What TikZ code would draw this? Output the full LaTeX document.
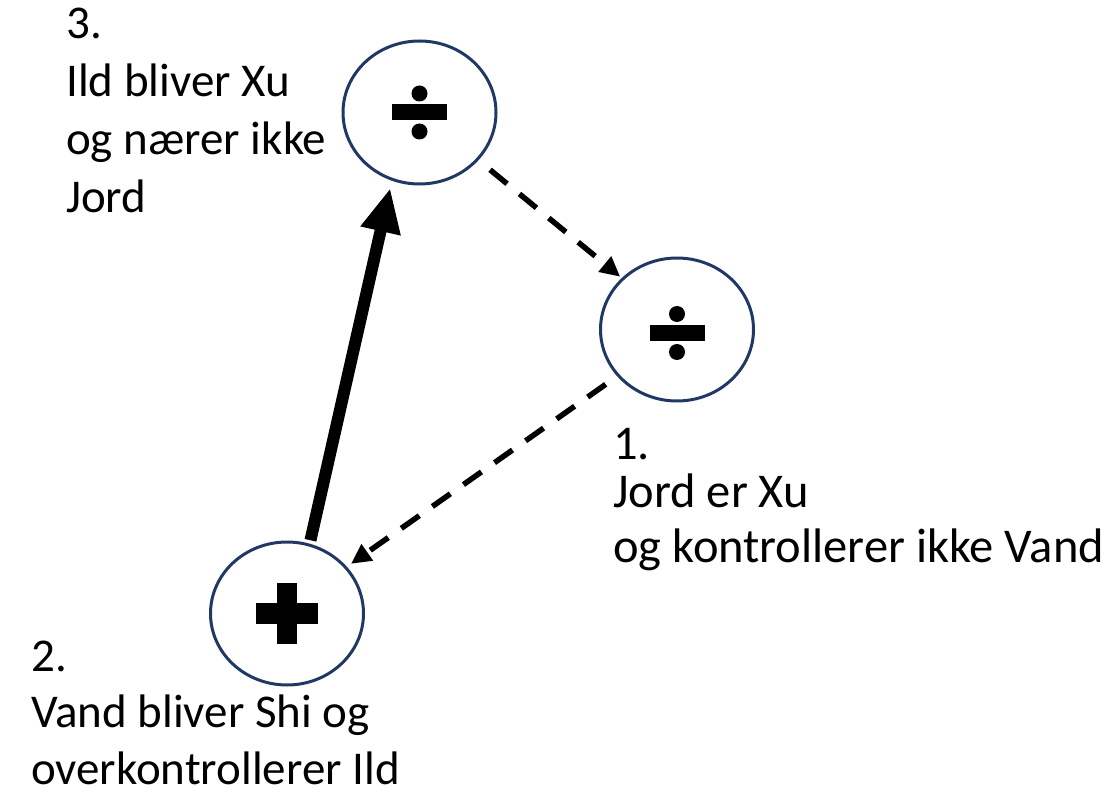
\documentclass[tikz,border=0pt]{standalone}
\usepackage{fontspec}
\setmainfont{Carlito}
\usetikzlibrary{shapes.geometric,arrows.meta}
\definecolor{rimblue}{RGB}{31,56,100}
\tikzset{%
  element/.style = {ellipse, draw=rimblue, line width=3pt,
    minimum width=153pt, minimum height=143pt, inner sep=0pt},
  phase/.style = {anchor=base west, align=left, inner sep=0pt},
  strong/.style = {line width=12pt, -{Triangle[length=44pt,width=38pt]}},
  weak/.style = {line width=5.5pt, dash pattern=on 22pt off 16pt,
    -{Triangle[length=20pt,width=19pt]}},
  divsym/.pic = {
    \fill (-27.5,-8) rectangle (27.5,8);
    \fill (0,-19) circle[radius=8];
    \fill (0,19) circle[radius=8];
  },
  plussym/.pic = {
    \fill (-31,-10.5) rectangle (31,10.5);
    \fill (-10,-30.5) rectangle (10,30.5);
  }
}
\begin{document}
\begin{tikzpicture}[x=1pt,y=-1pt]
	\useasboundingbox (0,0) rectangle (1114,794);
	% the three elements
	\node[element] (c3) at (419.5,112.5) {};
	\node[element] (c1) at (677,329.5) {};
	\node[element] (c2) at (287,613.5) {};
	\pic at (c3) {divsym};
	\pic at (677,333) {divsym};
	\pic at (c2) {plussym};
	% arrows
	\draw[strong, shorten <=3.5pt, shorten >=7.5pt] (c2.72.6) -- (c3.248.7);
	\draw[weak, shorten <=15pt, shorten >=2pt] (c3.-39.2) -- (c1.137.4);
	\draw[weak, shorten <=14pt, shorten >=5pt] (c1.218.9) -- (c2.38.7);
	% texts (anchored at the last line)
	\node[phase, font=\fontsize{47}{58}\selectfont] (t3) at (66,213)
	  {3.\\Ild bliver Xu\\og n\ae rer ikke\\Jord};
	\node[phase, font=\fontsize{48.5}{55}\selectfont] (t1) at (613,562)
	  {1.\\[-7pt]Jord er Xu\\og kontrollerer ikke Vand};
	\node[phase, font=\fontsize{47}{56.5}\selectfont] (t2) at (31,784)
	  {2.\\Vand bliver Shi og\\overkontrollerer Ild};
\end{tikzpicture}
\end{document}
